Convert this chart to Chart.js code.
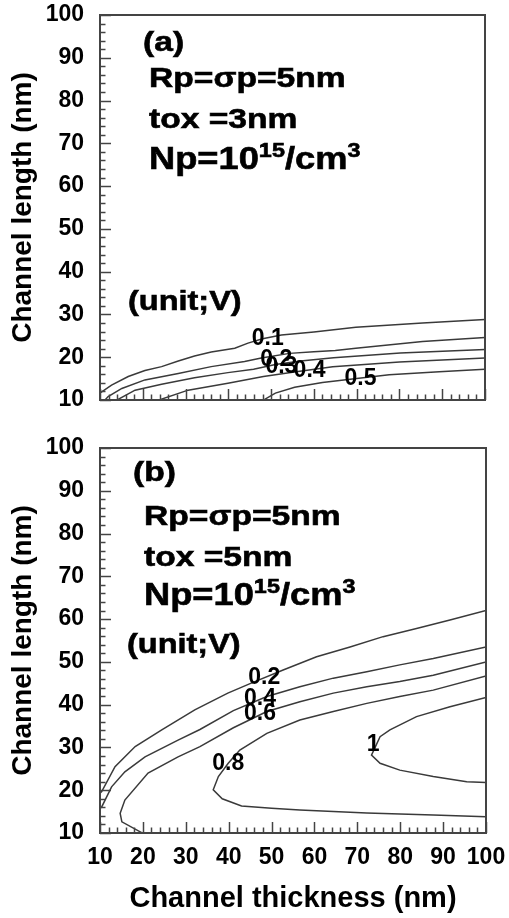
<!DOCTYPE html>
<html><head><meta charset="utf-8">
<script src="https://cdn.jsdelivr.net/npm/chart.js@4.4.1/dist/chart.umd.min.js"></script>
<style>html,body{margin:0;padding:0;background:#fff;}canvas{display:block;}</style>
</head><body>
<canvas id="ca" width="509" height="420"></canvas>
<canvas id="cb" width="509" height="498"></canvas>
<script>
// ---------- axes ----------
const axisMin = 10, axisMax = 100, majorStep = 10, minorStep = 2;
const xTitle = 'Channel thickness (nm)';
const yTitle = 'Channel length (nm)';

// ---------- panel (a) contours : [thickness, length] ----------
const levelsA = ['0.1', '0.2', '0.3', '0.4', '0.5'];
const a01 = [[9.5,11.4],[10.4,11.9],[12.7,13.5],[16.6,15.5],[20.5,16.9],[24.4,17.8],[28.3,19.1],[32.1,20.3],[36,21.2],[41.5,22.1],[44.6,23.3],[48,24.3],[52.4,25.2],[60,25.9],[69.8,27.0],[85.4,28.0],[100,28.8]];
const a02 = [[11.0,9.8],[11.9,10.8],[15.1,12.7],[20.5,14.7],[28.3,16.2],[36,17.8],[43.8,19.0],[47.7,19.8],[54.3,20.9],[60,21.3],[65,21.6],[69.8,22.1],[85.4,23.7],[100,24.6]];
const a03 = [[13.6,9.8],[18.2,12.3],[24.4,13.7],[32.1,15.2],[39.9,16.4],[45.9,17.2],[51,18.3],[56.9,19.1],[64.6,19.9],[80.2,21.0],[100,21.8]];
const a04 = [[23.2,9.8],[30.6,12.3],[39.9,13.9],[48.2,15.5],[55,16.5],[64.4,17.8],[80,18.9],[100,19.8]];
const a05 = [[47.6,9.8],[48.6,10.2],[51,11.6],[55.5,13.0],[62,14.1],[70,15.0],[77.6,15.9],[89.3,16.6],[100,17.2]];

// ---------- panel (b) contours ----------
const levelsB = ['0.2', '0.4', '0.6', '0.8', '1'];
const b02 = [[9.6,18.9],[10.4,19.7],[13.5,25.5],[18.2,30.2],[24.4,34.1],[32.1,38.8],[39.8,42.7],[45.4,45.1],[52.7,48.1],[60.5,51.2],[68.3,53.5],[76,55.9],[83.8,57.8],[91.6,59.8],[100,62.0]];
const b04 = [[9.6,15.5],[10.4,16.1],[12.7,20.8],[15.8,24.3],[20.5,27.8],[28.2,31.7],[33.3,34.2],[41.1,38.6],[48.9,41.9],[56.6,44.2],[64.4,46.2],[72.2,47.7],[79.9,49.3],[87.7,50.8],[100,53.5]];
const b06 = [[21.0,9.6],[19.7,10.1],[15.1,12.6],[14.7,14.6],[15.8,17.7],[21.2,24.0],[28.2,27.8],[33.3,30.2],[41.1,34.6],[48.9,38.4],[56.6,40.7],[64.4,42.7],[72.2,44.2],[79.9,45.4],[87.7,46.9],[100,50.0]];
const b08 = [[100,46.7],[87.7,43.4],[79.9,41.9],[72.2,40.3],[64.4,38.4],[56.6,36.4],[48.9,33.3],[42.6,29.4],[39.9,26.3],[37.6,23.2],[36.4,20.1],[38.5,18.0],[43,16.3],[50,15.8],[56.6,15.4],[72.2,14.7],[87.7,14.2],[100,13.8]];
const b10 = [[100,41.7],[91.6,39.5],[83.8,37.2],[77.6,34.1],[75.3,32.5],[73.3,28.2],[75.3,26.3],[79.9,24.7],[87.7,23.2],[95.5,22.0],[100,21.8]];

// ---------- layout (positions / styles) ----------
const FONT = '"Liberation Sans", Arial, Helvetica, sans-serif';
const labelPosA = [[49.2,24.4],[51.2,19.5],[52.4,17.8],[59.0,16.9],[70.9,15.1]];
const labelPosB = [[48.3,46.2],[47.3,41.3],[47.3,37.8],[39.9,26.3],[73.7,30.6]];

function annotLines(tag, tox, dxs, dys) {
  const f = 'bold 28px ' + FONT, fN = 'bold 31px ' + FONT, fs = 'bold 20px ' + FONT;
  return [
    {dx: dxs[0], dy: dys[0], font: f, sx: 1.2, segs: [{t: tag}]},
    {dx: dxs[1], dy: dys[1], font: f, sx: 1.2, segs: [{t: 'Rp=\u03c3p=5nm'}]},
    {dx: dxs[1], dy: dys[2], font: f, sx: 1.2, segs: [{t: tox}]},
    {dx: dxs[1], dy: dys[3], font: fN, supFont: fs, supRaise: 12.5, sx: 1.17,
      segs: [{t: 'Np=10'}, {t: '15', sup: true}, {t: '/cm'}, {t: '3', sup: true}]},
    {dx: dxs[2], dy: dys[4], font: f, sx: 1.16, segs: [{t: '(unit;V)'}]}
  ];
}

const frameTicks = {
  id: 'frameTicks',
  afterDatasetsDraw(chart) {
    const {ctx, chartArea: ca, scales: {x, y}} = chart;
    ctx.save();
    ctx.strokeStyle = '#444';
    ctx.lineWidth = 1.5;
    for (let v = axisMin; v <= axisMax + 1e-9; v += minorStep) {
      const major = Math.abs((v - axisMin) % majorStep) < 1e-9;
      const len = major ? 11 : 5.5;
      const py = Math.round(y.getPixelForValue(v)) + 0.5;
      ctx.beginPath(); ctx.moveTo(ca.left, py); ctx.lineTo(ca.left + len, py); ctx.stroke();
      const px = Math.round(x.getPixelForValue(v)) + 0.5;
      ctx.beginPath(); ctx.moveTo(px, ca.bottom); ctx.lineTo(px, ca.bottom - len); ctx.stroke();
    }
    ctx.lineWidth = 2;
    ctx.strokeRect(ca.left, ca.top, ca.right - ca.left, ca.bottom - ca.top);
    ctx.restore();
  }
};

const textPlugin = {
  id: 'texts',
  afterDraw(chart, args, opts) {
    const {ctx, chartArea: ca, scales: {x, y}} = chart;
    ctx.save();
    ctx.fillStyle = '#000';
    ctx.strokeStyle = '#000';
    ctx.lineWidth = 0.6;
    ctx.textBaseline = 'alphabetic';
    ctx.textAlign = 'left';
    for (const ln of opts.lines) {
      let cx = ca.left + ln.dx;
      const by = ca.top + ln.dy;
      for (const seg of ln.segs) {
        ctx.font = seg.sup ? ln.supFont : ln.font;
        ctx.save();
        ctx.translate(cx, by - (seg.sup ? ln.supRaise : 0));
        ctx.scale(ln.sx, 1);
        ctx.fillText(seg.t, 0, 0);
        ctx.strokeText(seg.t, 0, 0);
        ctx.restore();
        cx += ctx.measureText(seg.t).width * ln.sx;
      }
    }
    ctx.font = 'bold 23px ' + FONT;
    ctx.textAlign = 'center';
    ctx.textBaseline = 'middle';
    opts.levels.forEach((t, i) => {
      const p = opts.pos[i];
      ctx.fillText(t, x.getPixelForValue(p[0]), y.getPixelForValue(p[1]));
    });
    ctx.restore();
  }
};

function ds(pts) {
  return {
    data: pts.map(p => ({x: p[0], y: p[1]})),
    showLine: true, borderColor: '#3a3a3a', borderWidth: 1.5,
    pointRadius: 0, pointHoverRadius: 0, tension: 0, fill: false
  };
}

function makeChart(id, sets, cfg) {
  return new Chart(document.getElementById(id), {
    type: 'scatter',
    data: {datasets: sets.map(ds)},
    options: {
      responsive: false, animation: false, events: [],
      layout: {padding: cfg.pad},
      plugins: {
        legend: {display: false}, tooltip: {enabled: false},
        texts: {lines: cfg.lines, levels: cfg.levels, pos: cfg.pos}
      },
      scales: {
        x: {
          type: 'linear', min: axisMin, max: axisMax,
          grid: {display: false, drawTicks: false}, border: {display: false},
          ticks: {display: cfg.showX, stepSize: majorStep, padding: 11, color: '#000',
                  maxRotation: 0, font: {family: FONT, size: 23, weight: 'bold'}},
          title: {display: cfg.showX, text: xTitle, color: '#000',
                  font: {family: FONT, size: 29, weight: 'bold'}, padding: {top: 0, bottom: 2}},
          afterFit: s => { s.height = cfg.xH; s.paddingLeft = 0; s.paddingRight = 0; }
        },
        y: {
          type: 'linear', min: axisMin, max: axisMax,
          grid: {display: false, drawTicks: false}, border: {display: false},
          ticks: {stepSize: majorStep, padding: 16, color: '#000',
                  font: {family: FONT, size: 23, weight: 'bold'}},
          title: {display: true, text: yTitle, color: '#000',
                  font: {family: FONT, size: 28, weight: 'bold'}, padding: {top: 6, bottom: 0}},
          afterFit: s => { s.width = 100; s.paddingTop = 0; s.paddingBottom = 0; }
        }
      }
    },
    plugins: [frameTicks, textPlugin]
  });
}

makeChart('ca', [a01, a02, a03, a04, a05], {
  pad: {top: 15, right: 24, bottom: 0, left: 0}, xH: 20, showX: false,
  levels: levelsA, pos: labelPosA,
  lines: annotLines('(a)', 'tox =3nm', [43, 49, 28], [36, 71.7, 112.5, 154, 295])
});
makeChart('cb', [b02, b04, b06, b08, b10], {
  pad: {top: 28, right: 23, bottom: 0, left: 0}, xH: 85, showX: true,
  levels: levelsB, pos: labelPosB,
  lines: annotLines('(b)', 'tox =5nm', [33, 44, 27], [33, 77, 117.5, 157, 205])
});
</script>
</body></html>
